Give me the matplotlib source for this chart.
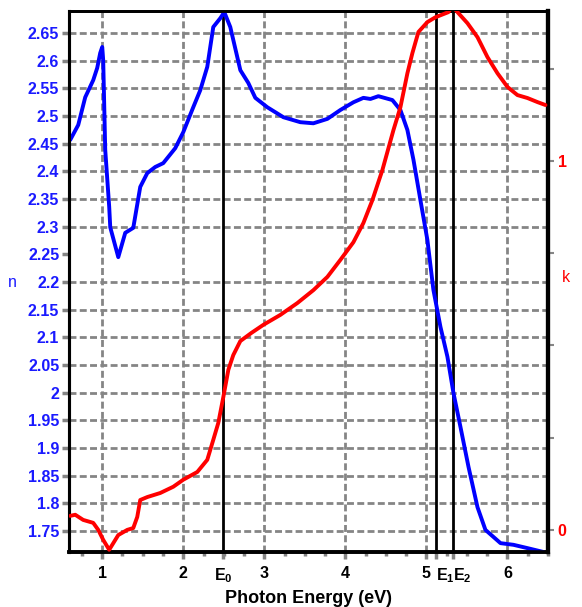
import matplotlib
matplotlib.use("Agg")
import matplotlib.pyplot as plt
from matplotlib.ticker import FixedLocator, MultipleLocator, NullFormatter

plt.rcParams['font.family'] = ['Liberation Sans', 'DejaVu Sans']
plt.rcParams['mathtext.fontset'] = 'custom'
plt.rcParams['mathtext.rm'] = 'Liberation Sans'
plt.rcParams['mathtext.it'] = 'Liberation Sans:italic'
plt.rcParams['mathtext.bf'] = 'Liberation Sans:bold'

# ---- data ----
n_energy = [0.605, 0.704, 0.790, 0.889, 0.938, 0.975, 1.0, 1.012, 1.037, 1.086, 1.099,
            1.198, 1.284, 1.383, 1.469, 1.556, 1.654, 1.753, 1.901, 2.0, 2.123, 2.210,
            2.296, 2.370, 2.457, 2.506, 2.580, 2.704, 2.802, 2.889, 3.037, 3.235, 3.444,
            3.605, 3.778, 3.938, 4.099, 4.222, 4.309, 4.407, 4.580, 4.679, 4.765, 4.840,
            4.926, 5.012, 5.086, 5.173, 5.259, 5.333, 5.420, 5.519, 5.630, 5.728, 5.914,
            6.074, 6.247, 6.444]
n_values = [2.457, 2.484, 2.534, 2.565, 2.587, 2.614, 2.625, 2.601, 2.439, 2.336, 2.299,
            2.245, 2.289, 2.298, 2.372, 2.397, 2.408, 2.415, 2.442, 2.471, 2.516, 2.547,
            2.589, 2.661, 2.677, 2.688, 2.661, 2.583, 2.560, 2.533, 2.516, 2.498, 2.489,
            2.487, 2.495, 2.511, 2.525, 2.533, 2.531, 2.536, 2.529, 2.511, 2.475, 2.421,
            2.348, 2.276, 2.186, 2.119, 2.065, 2.0, 1.938, 1.866, 1.793, 1.752, 1.728,
            1.725, 1.719, 1.712]

k_energy = [0.605, 0.667, 0.765, 0.889, 0.951, 1.012, 1.086, 1.198, 1.309, 1.383, 1.432,
            1.469, 1.556, 1.716, 1.877, 2.0, 2.173, 2.296, 2.370, 2.432, 2.494, 2.556,
            2.617, 2.704, 2.840, 2.988, 3.198, 3.407, 3.605, 3.778, 3.938, 4.099, 4.222,
            4.333, 4.457, 4.593, 4.679, 4.765, 4.827, 4.901, 5.012, 5.111, 5.272, 5.321,
            5.383, 5.506, 5.630, 5.753, 5.877, 6.0, 6.123, 6.247, 6.370, 6.469]
k_values = [0.038, 0.041, 0.027, 0.019, 0.0, -0.027, -0.054, -0.014, 0.0, 0.005, 0.035,
            0.081, 0.089, 0.100, 0.117, 0.136, 0.157, 0.190, 0.244, 0.290, 0.360, 0.434,
            0.474, 0.512, 0.534, 0.556, 0.583, 0.615, 0.650, 0.686, 0.732, 0.780, 0.832,
            0.894, 0.976, 1.084, 1.146, 1.238, 1.293, 1.350, 1.377, 1.390, 1.404, 1.420,
            1.404, 1.374, 1.336, 1.282, 1.238, 1.201, 1.179, 1.171, 1.160, 1.152]

# transition energies
e_marks = [2.49, 5.12, 5.33]
e_mark_labels = [r'$\mathbf{E}_\mathbf{0}$', r'$\mathbf{E}_\mathbf{1}$', r'$\mathbf{E}_\mathbf{2}$']
e_mark_align = ['center', 'left', 'left']

x_ticks = [1, 2, 3, 4, 5, 6]
x_tick_labels = ['1', '2', '3', '4', '5', '6']

n_ticks = [2.65, 2.6, 2.55, 2.5, 2.45, 2.4, 2.35, 2.3, 2.25, 2.2, 2.15, 2.1, 2.05,
           2.0, 1.95, 1.9, 1.85, 1.8, 1.75]
n_tick_labels = ['2.65', '2.6', '2.55', '2.5', '2.45', '2.4', '2.35', '2.3', '2.25', '2.2',
                 '2.15', '2.1', '2.05', '2', '1.95', '1.9', '1.85', '1.8', '1.75']
n_no_grid = [2.25]

k_ticks = [0, 0.25, 0.5, 0.75, 1, 1.25]
k_tick_labels = ['0', '', '', '', '1', '']

# ---- styling ----
BLUE = '#1a1aff'
RED = '#ff0000'
GRAY = '#858585'
FS = 11.5

fig = plt.figure(figsize=(5.82, 6.07), dpi=100)
ax = fig.add_axes([69/582, 1 - 552/607, (548-69)/582, (552-11)/607])
ax2 = ax.twinx()

ax.set_xlim(0.59, 6.5)
ax.set_ylim(1.712, 2.690)
ax2.set_ylim(-0.060, 1.407)

# grid (horizontal)
for t in n_ticks:
    if t in n_no_grid:
        continue
    ax.axhline(t, color=GRAY, lw=2.0, dashes=(2.5, 1.2), zorder=1)
# grid (vertical)
for t in x_ticks:
    ax.axvline(t, color=GRAY, lw=2.0, dashes=(2.5, 1.2), zorder=1)

# transition lines
for e in e_marks:
    ax.axvline(e, color='black', lw=2.0, zorder=2)

ax.plot(n_energy, n_values, color='#0000ff', lw=2.8, zorder=3, solid_capstyle='round')
ax2.plot(k_energy, k_values, color=RED, lw=2.8, zorder=3, solid_capstyle='round')

# x axis ticks
xt = x_ticks + e_marks
xl = x_tick_labels + e_mark_labels
ax.xaxis.set_major_locator(FixedLocator(xt))
ax.set_xticklabels(xl, fontweight='bold')
ax.xaxis.set_minor_locator(MultipleLocator(0.25))
ax.xaxis.set_minor_formatter(NullFormatter())
ax.tick_params(axis='x', which='major', length=5, width=2.5, color=GRAY,
               labelsize=FS, labelcolor='black', pad=5)
ax.tick_params(axis='x', which='minor', length=3, width=2.5, color=GRAY)
align = ['center'] * len(x_ticks) + e_mark_align
for lab, ha in zip(ax.get_xticklabels(), align):
    lab.set_horizontalalignment(ha)

# left axis
ax.yaxis.set_major_locator(FixedLocator(n_ticks))
ax.set_yticklabels(n_tick_labels, fontweight='bold')
ax.tick_params(axis='y', which='major', length=5, width=2.5, color=GRAY,
               labelsize=FS, labelcolor=BLUE, pad=2)

# right axis
ax2.yaxis.set_major_locator(FixedLocator(k_ticks))
ax2.set_yticklabels(k_tick_labels, fontweight='bold')
ax2.tick_params(axis='y', which='major', length=4, width=1.5, color=GRAY,
                labelsize=FS, labelcolor=RED, pad=3)

for a in (ax, ax2):
    for s in a.spines.values():
        s.set_color('black')
    a.spines['left'].set_linewidth(2.2)
    a.spines['bottom'].set_linewidth(2.6)
    a.spines['top'].set_linewidth(2.0)
    a.spines['right'].set_linewidth(3.0)

ax.set_xlabel('Photon Energy (eV)', fontsize=FS + 1.5, fontweight='bold',
              color='black', labelpad=4)
fig.text(12/582, 1 - 282/607, 'n', color=BLUE, fontsize=FS, ha='center', va='center')
fig.text(566/582, 1 - 278/607, 'k', color=RED, fontsize=FS, ha='center', va='center')

fig.savefig('out.png', dpi=100)
